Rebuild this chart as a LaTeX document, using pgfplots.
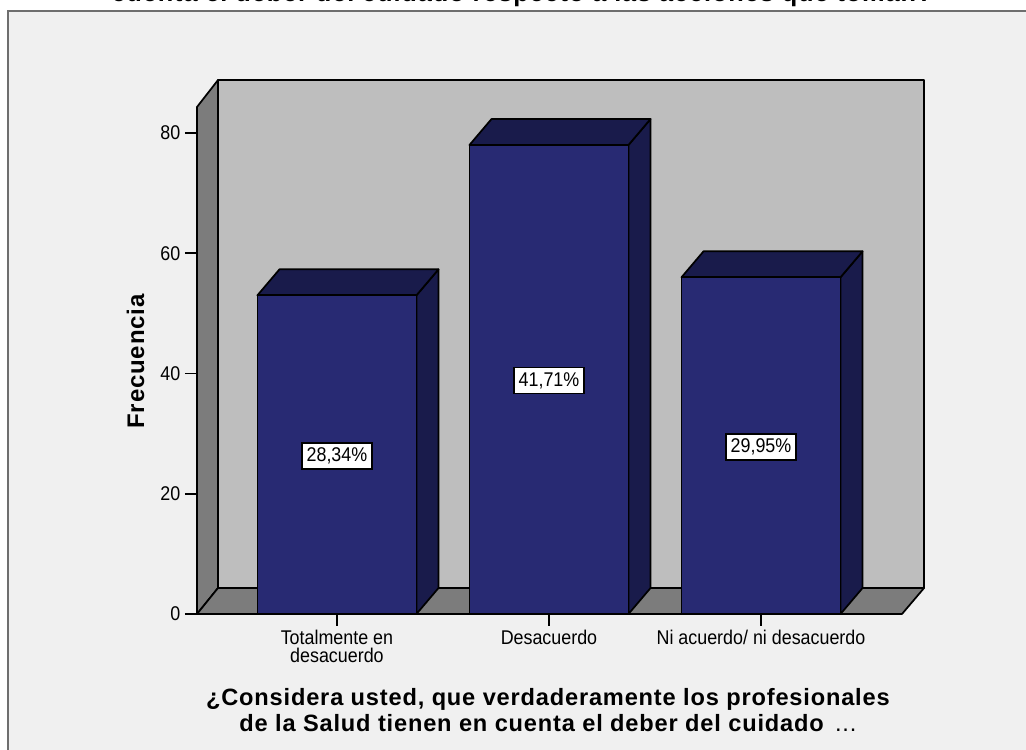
\documentclass[border=0pt]{standalone}
\usepackage{pgfplots}
\pgfplotsset{compat=1.18}
\usepackage{fontspec}
\setmainfont[FakeStretch=0.9]{Liberation Sans}
\newfontfamily\headfont[LetterSpace=3.5]{Liberation Sans Bold}
\newfontfamily\headlight[LetterSpace=3.5]{Liberation Sans}
\definecolor{panel}{HTML}{F0F0F0}
\definecolor{paneledge}{HTML}{6E6E6E}
\definecolor{wall}{HTML}{BEBEBE}
\definecolor{side}{HTML}{7C7C7C}
\definecolor{barfront}{HTML}{282A73}
\definecolor{bardark}{HTML}{191B4B}
\begin{document}
\begin{tikzpicture}
% page of 769.5pt x 562.5pt, 0.75pt to the pixel
\useasboundingbox (0,0) rectangle (769.5pt,562.5pt);
\clip (0,0) rectangle (769.5pt,562.5pt);
\fill[white] (0,0) rectangle (769.5pt,562.5pt);
\fill[panel,draw=paneledge,line width=1.5pt] (6pt,-20pt) rectangle (790pt,554.25pt);
\node[font=\headfont\fontsize{19}{20}\selectfont,anchor=base] at (391.5pt,561.7pt)
  {cuenta el deber del cuidado respecto a las acciones que toman?};
\begin{axis}[
  at={(147.75pt,102pt)},anchor=south west,
  scale only axis,width=528.75pt,height=380.25pt,
  xmin=-0.660,xmax=2.665,ymin=0,ymax=84.32,
  clip=false,
  axis x line=bottom,axis y line=left,
  axis line style={-,black,line width=1.3pt},
  tick style={black,line width=1.2pt},
  tick align=outside,major tick length=9pt,
  xtick={0,1,2},
  xticklabels={Totalmente en\\desacuerdo,Desacuerdo,Ni acuerdo/ ni desacuerdo},
  x tick label style={align=center,yshift=0.6pt,font=\fontsize{14.9}{14}\selectfont},
  ytick={0,20,40,60,80},
  y tick label style={font=\fontsize{14.9}{17}\selectfont},
  /pgf/number format/assume math mode=true,
  xlabel={¿Considera usted, que verdaderamente los profesionales\\de la Salud tienen en cuenta el deber del cuidado {\headlight\,...}},
  xlabel style={at={(axis cs:0.995,-16)},anchor=center,align=center,
    font=\headfont\fontsize{17.7}{19.2}\selectfont},
  ylabel={Frecuencia},
  ylabel style={at={(axis cs:-0.95,42)},anchor=center,
    font=\headfont\fontsize{18}{20}\selectfont},
  every axis plot/.append style={line width=1.3pt,line join=round},
]
% chamber of the 3D box: back wall, left wall, floor
\addplot[fill=wall,draw=black] coordinates {(-0.561,4.32)(-0.561,88.8)(2.769,88.8)(2.769,4.32)} -- cycle;
\addplot[fill=side,draw=black] coordinates {(-0.660,0)(-0.660,84.32)(-0.561,88.8)(-0.561,4.32)} -- cycle;
\addplot[fill=side,draw=black] coordinates {(-0.660,0)(2.665,0)(2.769,4.32)(-0.561,4.32)} -- cycle;
% Totalmente en desacuerdo: 53
\addplot[fill=bardark,draw=black] coordinates {(0.375,0)(0.375,53)(0.479,57.32)(0.479,4.32)} -- cycle;
\addplot[fill=bardark,draw=black] coordinates {(-0.375,53)(0.375,53)(0.479,57.32)(-0.271,57.32)} -- cycle;
\addplot[fill=barfront,draw=black] coordinates {(-0.375,0)(-0.375,53)(0.375,53)(0.375,0)} -- cycle;
% Desacuerdo: 78
\addplot[fill=bardark,draw=black] coordinates {(1.375,0)(1.375,78)(1.479,82.32)(1.479,4.32)} -- cycle;
\addplot[fill=bardark,draw=black] coordinates {(0.625,78)(1.375,78)(1.479,82.32)(0.729,82.32)} -- cycle;
\addplot[fill=barfront,draw=black] coordinates {(0.625,0)(0.625,78)(1.375,78)(1.375,0)} -- cycle;
% Ni acuerdo / ni desacuerdo: 56
\addplot[fill=bardark,draw=black] coordinates {(2.375,0)(2.375,56)(2.479,60.32)(2.479,4.32)} -- cycle;
\addplot[fill=bardark,draw=black] coordinates {(1.625,56)(2.375,56)(2.479,60.32)(1.729,60.32)} -- cycle;
\addplot[fill=barfront,draw=black] coordinates {(1.625,0)(1.625,56)(2.375,56)(2.375,0)} -- cycle;
% share of the 187 answers, at half the height of each bar
\tikzset{pct/.style={fill=white,draw=black,line width=1pt,inner sep=0pt,
  minimum width=52.5pt,minimum height=19.5pt,yshift=-1pt,font=\fontsize{14.9}{17}\selectfont}}
\node[pct] at (axis cs:0,26.5) {28,34\%};
\node[pct] at (axis cs:1,39) {41,71\%};
\node[pct] at (axis cs:2,28) {29,95\%};
\end{axis}
\end{tikzpicture}
\end{document}
